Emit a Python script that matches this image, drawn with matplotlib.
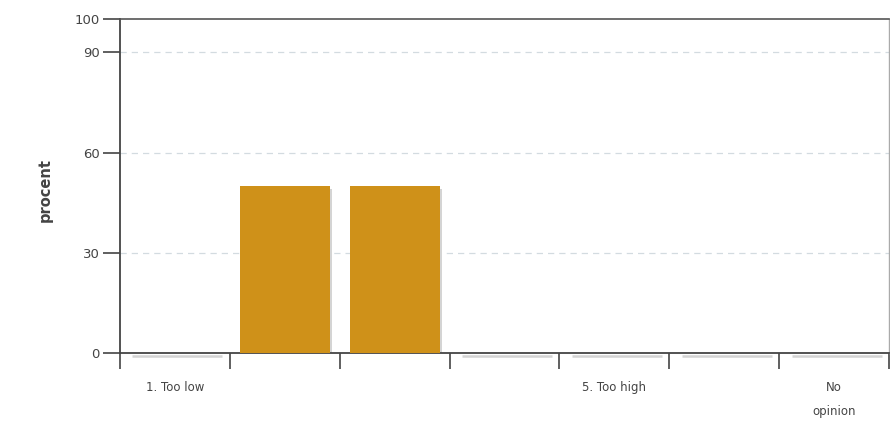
import matplotlib
matplotlib.use("Agg")
import matplotlib.pyplot as plt
import matplotlib.transforms as mtransforms
import numpy as np

categories = ["1. Too low", "", "", "", "5. Too high", "", "No\nopinion"]
values = [0, 50, 50, 0, 0, 0, 0]
yticks = [0, 30, 60, 90, 100]

fig = plt.figure(figsize=(8.9, 4.21), dpi=100)
ax = fig.add_axes([120/890, 68/421, 769/890, 334/421])

x = np.arange(len(categories))
bw = 0.82
shadow_tr = ax.transData + mtransforms.ScaledTranslation(2.5/100, -2.5/100, fig.dpi_scale_trans)
for xi, v in zip(x, values):
    if v > 0:
        ax.bar(xi, v, width=bw, color="#d4d4d4", transform=shadow_tr, zorder=2)
    else:
        ax.plot([xi - bw/2, xi + bw/2], [0, 0], color="#d4d4d4", lw=1.8,
                transform=shadow_tr, zorder=2, solid_capstyle="butt", clip_on=False)
ax.bar(x, values, width=bw, color="#CF9119", zorder=3)

ax.set_xlim(-0.5, len(categories) - 0.5)
ax.set_ylim(0, 100)
ax.set_yticks(yticks)
ax.set_yticklabels([str(t) for t in yticks], fontsize=9.5, color="#444444")
for t in [30, 60, 90]:
    ax.axhline(t, color="#d3dbe0", lw=0.9, ls=(0, (5, 4)), zorder=1)

ax.set_xticks(np.arange(-0.5, len(categories), 1.0))
ax.set_xticklabels([])
ax.tick_params(axis="x", length=11.5, width=1.2, color="#444444", direction="out")
ax.tick_params(axis="y", length=12.5, width=1.2, color="#444444", direction="out", pad=2)

label_tr = mtransforms.blended_transform_factory(ax.transData, fig.transFigure)
for xi, lab in zip(x, categories):
    if lab:
        ax.text(xi, (421 - 381)/421, lab, ha="center", va="top", fontsize=8.5, color="#444444",
                linespacing=2.1, transform=label_tr)

ax.spines["left"].set_color("#444444")
ax.spines["left"].set_linewidth(1.3)
ax.spines["bottom"].set_color("#444444")
ax.spines["bottom"].set_linewidth(1.3)
ax.spines["top"].set_color("#555555")
ax.spines["top"].set_linewidth(1.2)
ax.spines["right"].set_color("#aaaaaa")
ax.spines["right"].set_linewidth(1.0)

fig.text(45/890, (421-190)/421, "procent", rotation=90, ha="center", va="center",
         fontsize=10.5, fontweight="bold", color="#444444")

fig.savefig("out.png", dpi=100)
